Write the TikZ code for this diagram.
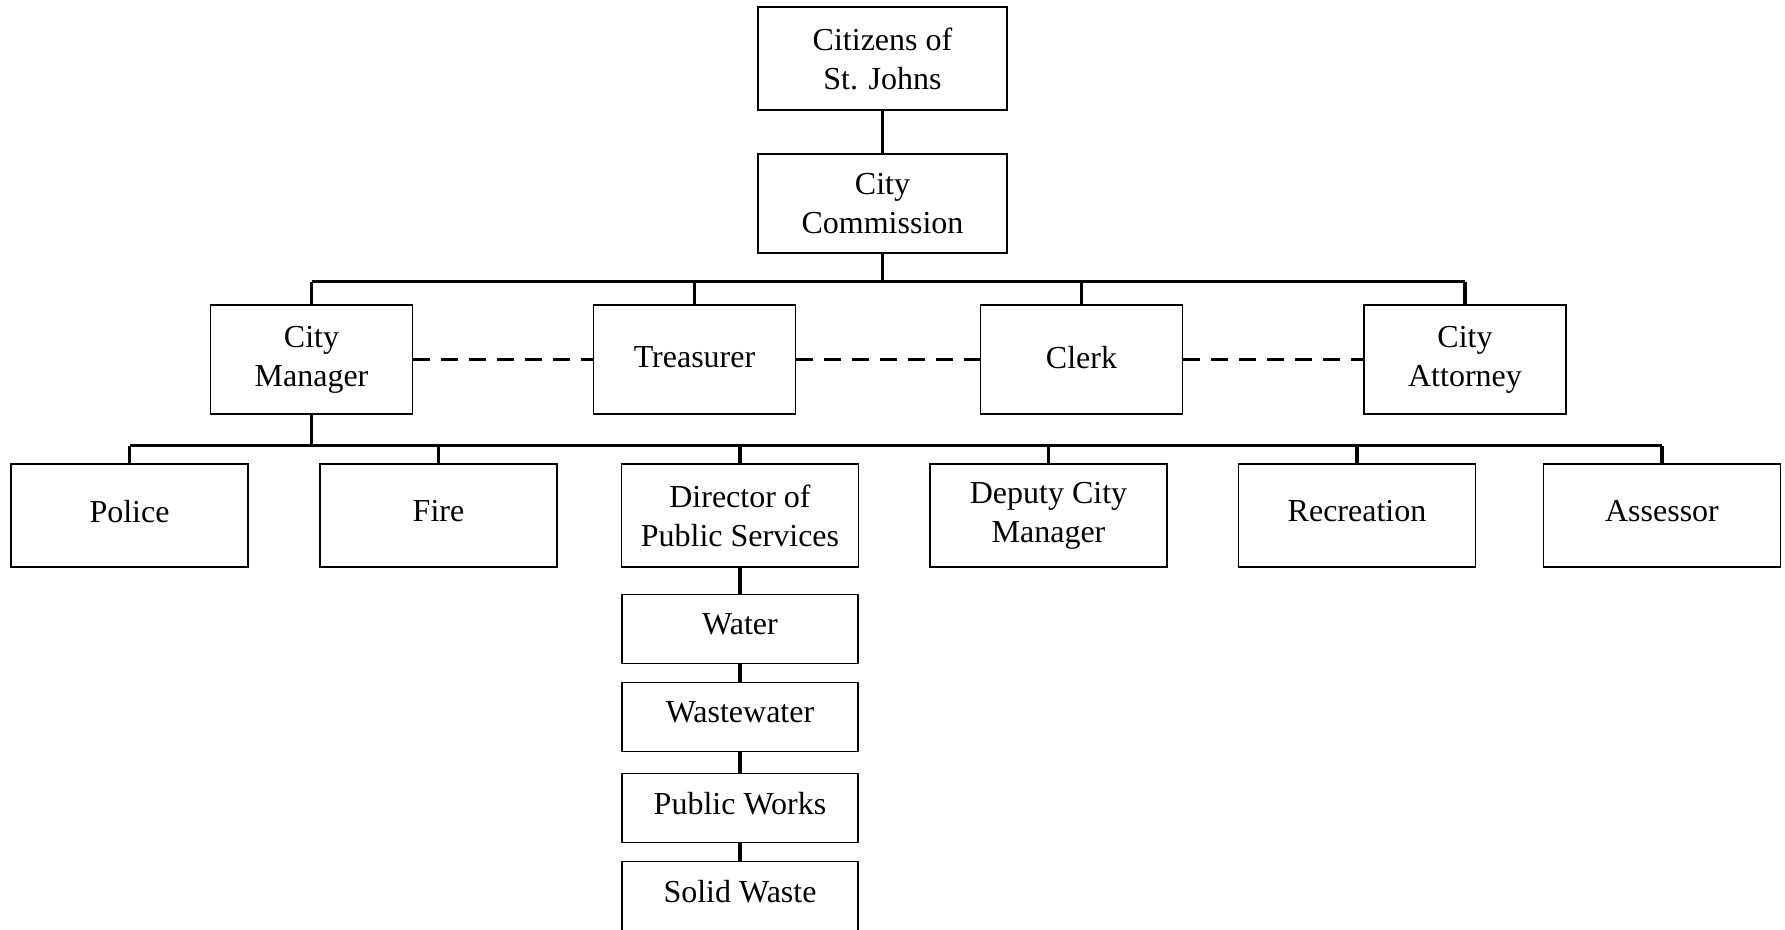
\documentclass[tikz,border=0pt]{standalone}
\usepackage{fontspec}
\setmainfont{Liberation Serif}
\begin{document}
\begin{tikzpicture}[x=0.5pt,y=-0.5pt,
    unit/.style={draw,line width=0.7pt,align=center,inner sep=0pt,
      minimum width=118.5pt,minimum height=51.5pt,
      font=\fontsize{16}{19.5}\selectfont},
    single/.style={text depth=4.5pt},
    office/.style={unit,minimum width=101pt,minimum height=54.5pt},
    service/.style={unit,single,minimum width=118pt,minimum height=34.5pt},
    link/.style={line width=1.6pt},
    peer/.style={line width=1.6pt,dash pattern=on 8.5pt off 5.5pt}]
    \useasboundingbox (0,0) rectangle (1785,930);
    % top of the chart
    \node[unit,minimum width=124.5pt] (citizens) at (882.5,58.5) {Citizens of\\St. Johns};
    \node[unit,minimum width=124.5pt,minimum height=49.5pt] (commission) at (882.5,203.5) {City\\Commission};
    % officers
    \node[office] (manager) at (311.5,359.5) {City\\Manager};
    \node[office,text depth=2pt] (treasurer) at (694.5,359.5) {Treasurer};
    \node[office,text depth=2pt] (clerk) at (1081.5,359.5) {Clerk};
    \node[office] (attorney) at (1465,359.5) {City\\Attorney};
    % departments
    \node[unit,single] (police) at (129.5,515.5) {Police};
    \node[unit,single] (fire) at (438.5,515.5) {Fire};
    \node[unit] (director) at (740,515.5) {Director of\\Public Services};
    \node[unit] (deputy) at (1048.5,515.5) {Deputy City\\Manager};
    \node[unit,single] (recreation) at (1357,515.5) {Recreation};
    \node[unit,single] (assessor) at (1662,515.5) {Assessor};
    % public services
    \node[service] (water) at (740,629) {Water};
    \node[service] (wastewater) at (740,717) {Wastewater};
    \node[service] (works) at (740,808) {Public Works};
    \node[service] (waste) at (740,896) {Solid Waste};

    \draw[link] (citizens) -- (commission);
    \path (commission.south) ++(0,28) coordinate (bus1);
    \draw[link] (commission.south) -- (bus1);
    \draw[link] (bus1 -| manager.north) -- (bus1 -| attorney.north);
    \foreach \n in {manager,treasurer,clerk,attorney}
      \draw[link] (bus1 -| \n.north) -- (\n.north);
    \draw[peer] (manager) -- (treasurer);
    \draw[peer] (treasurer) -- (clerk);
    \draw[peer] (clerk) -- (attorney);
    \path (manager.south) ++(0,31) coordinate (bus2);
    \draw[link] (manager.south) -- (bus2);
    \draw[link] (bus2 -| police.north) -- (bus2 -| assessor.north);
    \foreach \n in {police,fire,director,deputy,recreation,assessor}
      \draw[link] (bus2 -| \n.north) -- (\n.north);
    \draw[link] (director) -- (water);
    \draw[link] (water) -- (wastewater);
    \draw[link] (wastewater) -- (works);
    \draw[link] (works) -- (waste);
  \end{tikzpicture}
\end{document}
